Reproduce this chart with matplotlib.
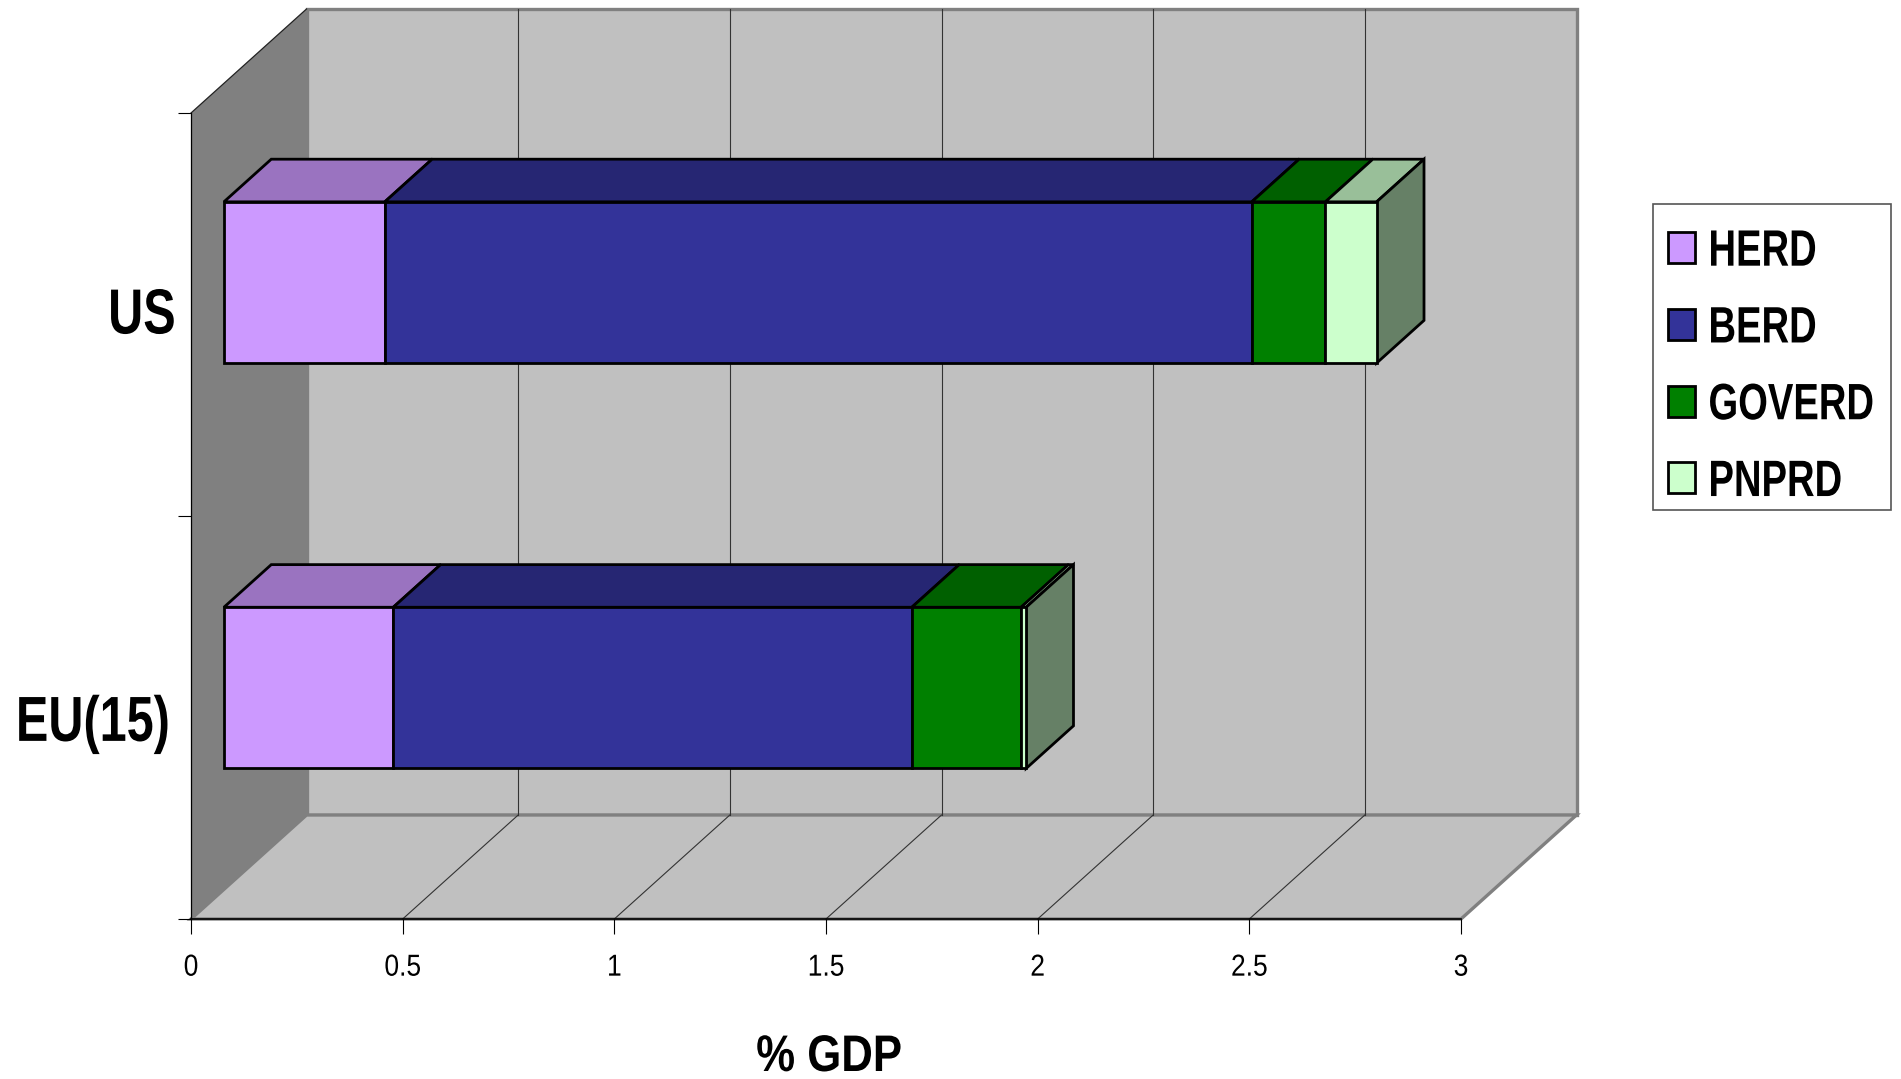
import matplotlib
matplotlib.use("Agg")
import matplotlib.pyplot as plt
from matplotlib.patches import Patch, Rectangle
from matplotlib.patheffects import AbstractPathEffect
from matplotlib.transforms import Affine2D

plt.rcParams['font.family'] = ['Liberation Sans', 'DejaVu Sans']

categories = ["EU(15)", "US"]
series_names = ["HERD", "BERD", "GOVERD", "PNPRD"]
herd = [0.40, 0.38]
berd = [1.225, 2.048]
goverd = [0.258, 0.174]
pnprd = [0.012, 0.121]
x_ticks = [0, 0.5, 1, 1.5, 2, 2.5, 3]
x_tick_labels = ["0", "0.5", "1", "1.5", "2", "2.5", "3"]

front_colors = ["#CC99FF", "#333399", "#008000", "#CCFFCC"]
top_colors = ["#9A73C0", "#262673", "#006000", "#99BF99"]
side_color = "#668066"
wall_color = "#C0C0C0"
side_wall_color = "#808080"

W, H = 1901, 1079
# front plane of the fake 3D box, in pixels
left, right, top, bottom = 191, 1461, 113, 919

# how far the back wall is shifted from the front plane, in data units
DEPTH_X = 115.5 / ((right - left) / 3)
DEPTH_Y = 104 / ((bottom - top) / 2)
BAR_FRONT = 0.285
BAR_BACK = 0.695
BAR_HEIGHT = 0.40


class TallText(AbstractPathEffect):
    # no narrow font here, so use a smaller font and stretch it up from the baseline
    def __init__(self, sy, dy=0):
        super().__init__()
        self.sy = sy
        self.dy = dy

    def draw_path(self, renderer, gc, tpath, affine, rgbFace=None):
        stretched = Affine2D().scale(1, self.sy) + affine + Affine2D().translate(0, self.dy)
        renderer.draw_path(gc, tpath, stretched, rgbFace)


def project(x, y, d):
    return x + d * DEPTH_X, y + d * DEPTH_Y


def face(ax, corners, color, edge="black", lw=2.0, z=1):
    xs, ys = zip(*[project(*c) for c in corners])
    ax.fill(xs, ys, facecolor=color, edgecolor=edge, linewidth=lw, zorder=z,
            clip_on=False, joinstyle="miter")


def draw_bar(ax, y_pos, values):
    y0 = y_pos - BAR_HEIGHT / 2
    y1 = y_pos + BAR_HEIGHT / 2
    start = 0
    for i, val in enumerate(values):
        end = start + val
        face(ax, [(start, y1, BAR_BACK), (end, y1, BAR_BACK),
                  (end, y1, BAR_FRONT), (start, y1, BAR_FRONT)], top_colors[i], z=4)
        face(ax, [(start, y0, BAR_FRONT), (end, y0, BAR_FRONT),
                  (end, y1, BAR_FRONT), (start, y1, BAR_FRONT)], front_colors[i], z=5)
        start = end
    face(ax, [(start, y0, BAR_FRONT), (start, y0, BAR_BACK),
              (start, y1, BAR_BACK), (start, y1, BAR_FRONT)], side_color, z=4)


fig = plt.figure(figsize=(W / 100, H / 100), dpi=100)
ax = fig.add_axes([left / W, 1 - bottom / H, (right - left) / W, (bottom - top) / H])
ax.set_xlim(0, 3)
ax.set_ylim(0, 2)
ax.patch.set_visible(False)
ax.spines["top"].set_visible(False)
ax.spines["right"].set_visible(False)
ax.spines["left"].set_linewidth(0.9)
ax.spines["bottom"].set_linewidth(1.2)

# walls and floor
face(ax, [(0, 0, 1), (3, 0, 1), (3, 2, 1), (0, 2, 1)], wall_color, edge="#808080", lw=2.4)
face(ax, [(0, 0, 0), (3, 0, 0), (3, 0, 1), (0, 0, 1)], wall_color, edge="#808080", lw=2.4)
face(ax, [(0, 0, 0), (0, 0, 1), (0, 2, 1), (0, 2, 0)], side_wall_color, edge="none", lw=0)

xs, ys = zip(project(0, 2, 0), project(0, 2, 1))
ax.plot(xs, ys, color="#222222", lw=0.9, clip_on=False, zorder=2)

for tick in x_ticks[1:-1]:
    xs, ys = zip(project(tick, 0, 1), project(tick, 2, 1))
    ax.plot(xs, ys, color="#333333", lw=0.8, clip_on=False, zorder=2)
    xs, ys = zip(project(tick, 0, 0), project(tick, 0, 1))
    ax.plot(xs, ys, color="#333333", lw=0.8, clip_on=False, zorder=2)

y_positions = [0.5, 1.506]
for c in range(len(categories)):
    draw_bar(ax, y_positions[c], [herd[c], berd[c], goverd[c], pnprd[c]])

ax.set_xticks(x_ticks)
ax.set_xticklabels(x_tick_labels, fontsize=19, va="baseline")
ax.tick_params(axis="x", length=11, width=0.8, pad=29.8)
for lab in ax.get_xticklabels():
    lab.set_path_effects([TallText(1.15)])
ax.set_yticks([0, 1, 2])
ax.set_yticklabels([])
ax.tick_params(axis="y", which="major", length=9.5, width=0.8)

# category labels, right edges differ a bit in the original
label_right = [-0.0165, -0.012]
label_drop = [0.058, 0.053]
for c, name in enumerate(categories):
    ax.text(label_right[c], y_positions[c] - label_drop[c], name, transform=ax.get_yaxis_transform(),
            fontsize=35, fontweight="bold", ha="right", va="baseline",
            path_effects=[TallText(1.31)])

fig.text(829 / W, 1 - 1071 / H, "% GDP", fontsize=31.5, fontweight="bold",
         ha="center", va="baseline", path_effects=[TallText(1.176)])

handles = [Patch(facecolor=front_colors[i], edgecolor="black", linewidth=2, label=series_names[i])
           for i in range(4)]
fig.add_artist(Rectangle((1653 / W, 1 - 510 / H), 238 / W, 305.5 / H, transform=fig.transFigure,
                         facecolor="white", edgecolor="#555555", linewidth=1.2))
leg = fig.legend(handles=handles, loc="upper left", bbox_to_anchor=(1667.6 / W, 1 - 232 / H),
                 bbox_transform=fig.transFigure, fontsize=27.5, frameon=False,
                 borderaxespad=0, borderpad=0,
                 handlelength=0.71, handleheight=0.87, handletextpad=0.36, labelspacing=1.05)
for t in leg.get_texts():
    t.set_fontweight("bold")
    t.set_path_effects([TallText(1.34, dy=-5)])

fig.savefig("out.png", dpi=100)
